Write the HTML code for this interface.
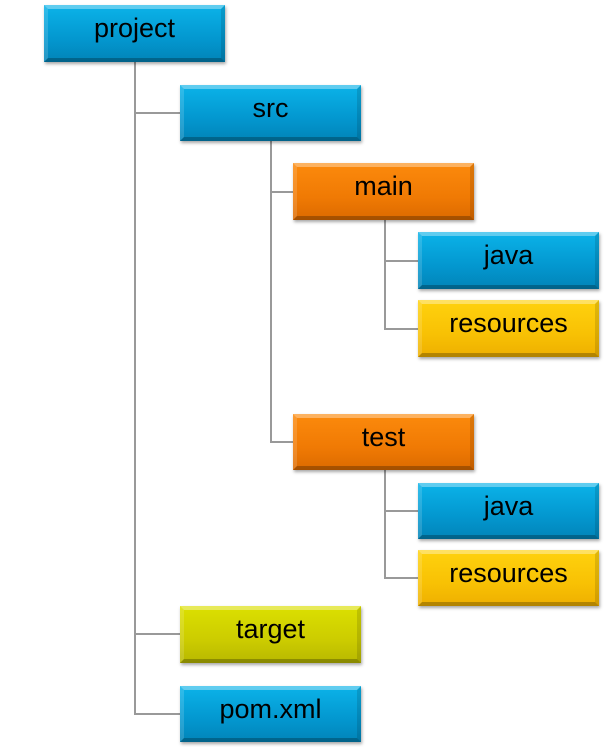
<!DOCTYPE html>
<html><head><meta charset="utf-8"><style>
html,body{margin:0;padding:0;background:#fff;width:614px;height:747px;overflow:hidden;position:relative}
.b{position:absolute;width:181px;height:56px;box-sizing:border-box;font-family:"Liberation Sans",sans-serif;font-size:27px;color:#000;text-align:center;line-height:46px;box-shadow:1px 2px 3px rgba(0,0,0,0.35)}
.b::before{content:"";position:absolute;left:0;top:0;right:0;bottom:0;border-top:4px solid rgba(255,255,255,0.35);border-left:4px solid rgba(255,255,255,0.15);border-right:4px solid rgba(0,0,0,0.12);border-bottom:4px solid rgba(0,0,0,0.25)}
.bl{background:linear-gradient(#0bb3e9,#0397cf 60%,#0284b8)}
.or{background:linear-gradient(#fc8a0c,#f07a04 60%,#dc6a00)}
.ye{background:linear-gradient(#ffd20e,#f8c104 60%,#eeaf00)}
.gr{background:linear-gradient(#dce000,#cccc00 60%,#b8b800)}
.l{position:absolute;background:#999}
</style></head><body>
<div class="l" style="left:134px;top:62px;width:2px;height:653px"></div>
<div class="l" style="left:134px;top:112px;width:46px;height:2px"></div>
<div class="l" style="left:134px;top:633px;width:46px;height:2px"></div>
<div class="l" style="left:134px;top:713px;width:46px;height:2px"></div>
<div class="l" style="left:270px;top:141px;width:2px;height:302px"></div>
<div class="l" style="left:270px;top:191px;width:24px;height:2px"></div>
<div class="l" style="left:270px;top:441px;width:24px;height:2px"></div>
<div class="l" style="left:384px;top:220px;width:2px;height:110px"></div>
<div class="l" style="left:384px;top:260px;width:34px;height:2px"></div>
<div class="l" style="left:384px;top:328px;width:34px;height:2px"></div>
<div class="l" style="left:384px;top:470px;width:2px;height:109px"></div>
<div class="l" style="left:384px;top:510px;width:34px;height:2px"></div>
<div class="l" style="left:384px;top:577px;width:34px;height:2px"></div>

<div class="b bl" style="left:44px;top:5px;height:57px">project</div>
<div class="b bl" style="left:180px;top:85px">src</div>
<div class="b or" style="left:293px;top:163px;height:57px">main</div>
<div class="b bl" style="left:418px;top:232px;height:57px">java</div>
<div class="b ye" style="left:418px;top:300px;height:57px">resources</div>
<div class="b or" style="left:293px;top:414px">test</div>
<div class="b bl" style="left:418px;top:483px">java</div>
<div class="b ye" style="left:418px;top:550px">resources</div>
<div class="b gr" style="left:180px;top:606px;height:57px">target</div>
<div class="b bl" style="left:180px;top:686px">pom.xml</div>
</body></html>
